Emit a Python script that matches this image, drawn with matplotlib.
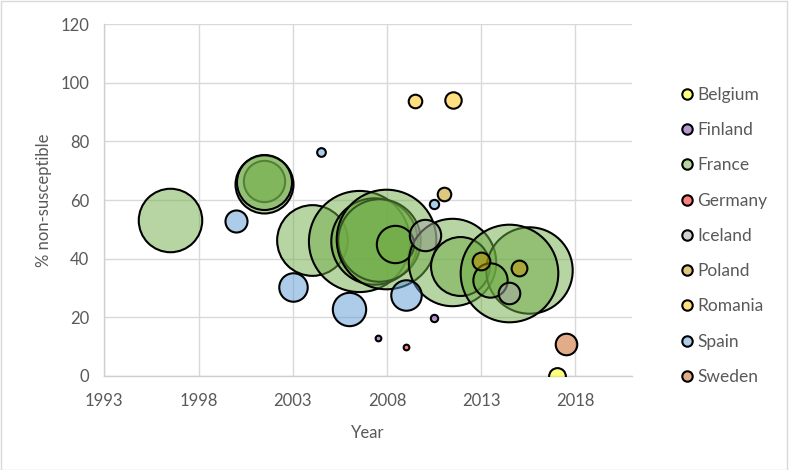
import matplotlib
matplotlib.use("Agg")
import matplotlib.pyplot as plt
from matplotlib.lines import Line2D
from matplotlib.patches import Rectangle

plt.rcParams['font.family'] = ['Lato', 'DejaVu Sans']

countries = ["Belgium", "Finland", "France", "Germany", "Iceland",
             "Poland", "Romania", "Spain", "Sweden"]

# year, % non-susceptible, bubble size (number of isolates, est.)
belgium_year = [2017.0]
belgium_pct = [0.0]
belgium_n = [26]

finland_year = [2010.5, 2007.5]
finland_pct = [19.9, 12.8]
finland_n = [5, 3]

france_year = [1996.5, 2001.5, 2001.5, 2001.5, 2004.0, 2006.5, 2007.3, 2007.6,
               2007.95, 2008.45, 2011.45, 2011.9, 2015.55, 2014.45, 2013.45]
france_pct = [53.2, 66.5, 65.4, 66.0, 46.3, 46.0, 46.0, 46.3,
              46.7, 45.1, 38.9, 37.6, 36.1, 35.2, 32.7]
france_n = [373, 158, 311, 280, 463, 947, 691, 630,
            918, 129, 707, 321, 691, 882, 109]

germany_year = [2009.0]
germany_pct = [9.8]
germany_n = [3]

iceland_year = [2010.0, 2014.5]
iceland_pct = [48.0, 28.2]
iceland_n = [91, 43]

poland_year = [2011.0, 2013.0, 2015.0]
poland_pct = [62.2, 39.3, 36.7]
poland_n = [17, 29, 23]

romania_year = [2009.5, 2011.5]
romania_pct = [93.8, 94.0]
romania_n = [17, 25]

spain_year = [2000.0, 2004.5, 2003.0, 2006.0, 2009.0, 2010.5]
spain_pct = [52.9, 76.2, 30.2, 22.9, 27.6, 58.6]
spain_n = [45, 7, 75, 103, 86, 8]

sweden_year = [2017.5]
sweden_pct = [10.8]
sweden_n = [43]

series = {
    "Belgium": (belgium_year, belgium_pct, belgium_n, "#FFFF00"),
    "Finland": (finland_year, finland_pct, finland_n, "#7030A0"),
    "France": (france_year, france_pct, france_n, "#70AD47"),
    "Germany": (germany_year, germany_pct, germany_n, "#FF0000"),
    "Iceland": (iceland_year, iceland_pct, iceland_n, "#A5A5A5"),
    "Poland": (poland_year, poland_pct, poland_n, "#BF9000"),
    "Romania": (romania_year, romania_pct, romania_n, "#FFC000"),
    "Spain": (spain_year, spain_pct, spain_n, "#5B9BD5"),
    "Sweden": (sweden_year, sweden_pct, sweden_n, "#C55A11"),
}

x_ticks = [1993, 1998, 2003, 2008, 2013, 2018]
y_ticks = [0, 20, 40, 60, 80, 100, 120]

fig = plt.figure(figsize=(7.89, 4.70), dpi=100)
ax = fig.add_axes([0.1322, 0.2, 0.801 - 0.1322, 0.9489 - 0.2])

K = 5.6
text_col = "#595959"
grid_col = "#d9d9d9"

handles = []
for name in countries:
    xs, ys, ns, col = series[name]
    for x, y, n in zip(xs, ys, ns):
        ax.scatter([x], [y], s=[n * K], facecolors=[matplotlib.colors.to_rgba(col, 0.5)],
                   edgecolors="black", linewidths=1.5, zorder=3, clip_on=True)
    handles.append(Line2D([0], [0], marker="o", linestyle="none",
                          markerfacecolor=matplotlib.colors.to_rgba(col, 0.5),
                          markeredgecolor="black", markeredgewidth=1.5,
                          markersize=7.5, label=name))

ax.set_xlim(1993, 2021)
ax.set_ylim(0, 120)
ax.set_xticks(x_ticks)
ax.set_yticks(y_ticks)
ax.grid(True, color=grid_col, linewidth=1.0, zorder=0)
ax.set_axisbelow(True)
for side in ["top", "right"]:
    ax.spines[side].set_visible(False)
for side in ["left", "bottom"]:
    ax.spines[side].set_color("#cfcfcf")
    ax.spines[side].set_linewidth(1.0)
ax.tick_params(length=0, labelsize=12, labelcolor=text_col)
ax.tick_params(axis="y", pad=11)
ax.tick_params(axis="x", pad=12)
ax.set_xlabel("Year", fontsize=12, color=text_col, labelpad=12)
ax.set_ylabel("% non-susceptible", fontsize=12, color=text_col, labelpad=6)

leg = fig.legend(handles=handles, loc="upper left", bbox_to_anchor=(0.851, 0.83),
                 frameon=False, fontsize=12.5, labelspacing=1.11, handletextpad=0.1,
                 handlelength=1.0, borderaxespad=0)
for t in leg.get_texts():
    t.set_color(text_col)

fig.patches.append(Rectangle((0.001, 0.001), 0.997, 0.997, transform=fig.transFigure,
                             fill=False, edgecolor="#d9d9d9", linewidth=1.0))

fig.savefig("out.png", dpi=100)
